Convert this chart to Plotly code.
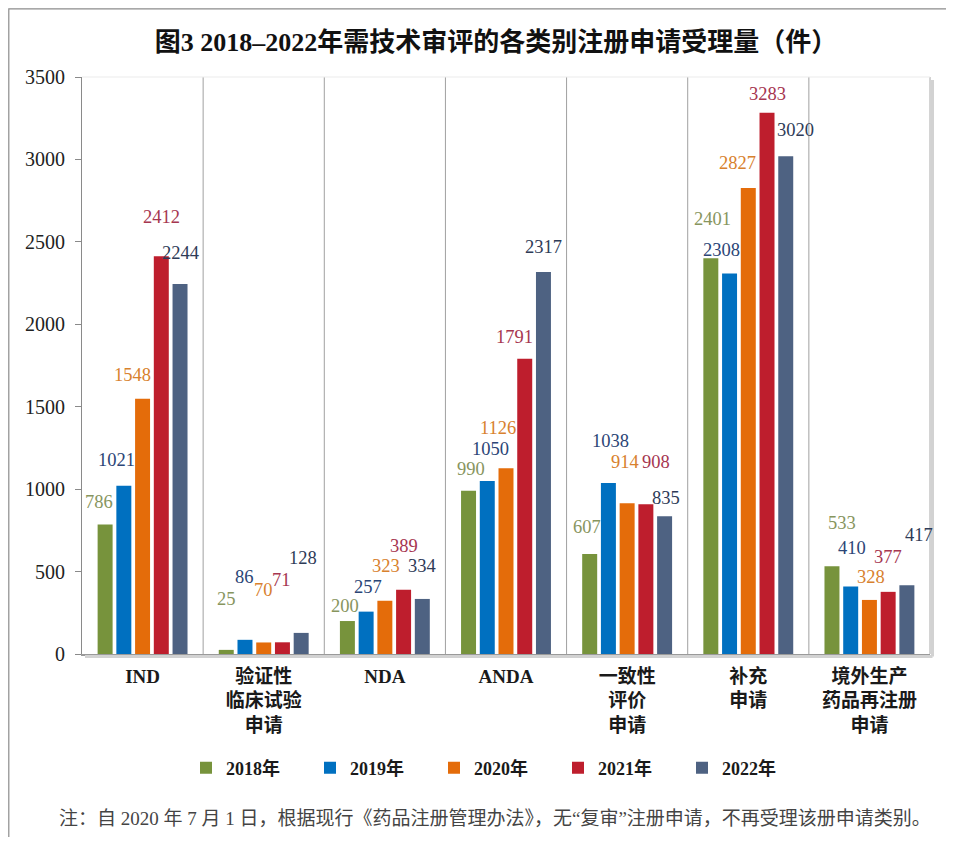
import plotly.graph_objects as go

# ---------------- data ----------------
categories = ["IND", "验证性<br>临床试验<br>申请", "NDA", "ANDA",
              "一致性<br>评价<br>申请", "补充<br>申请", "境外生产<br>药品再注册<br>申请"]
years = ["2018年", "2019年", "2020年", "2021年", "2022年"]
v2018 = [786, 25, 200, 990, 607, 2401, 533]
v2019 = [1021, 86, 257, 1050, 1038, 2308, 410]
v2020 = [1548, 70, 323, 1126, 914, 2827, 328]
v2021 = [2412, 71, 389, 1791, 908, 3283, 377]
v2022 = [2244, 128, 334, 2317, 835, 3020, 417]
series = [v2018, v2019, v2020, v2021, v2022]
y_ticks = [0, 500, 1000, 1500, 2000, 2500, 3000, 3500]

title_text = "图3 2018–2022年需技术审评的各类别注册申请受理量（件）"
note_text = "注：自 2020 年 7 月 1 日，根据现行《药品注册管理办法》，无“复审”注册申请，不再受理该册申请类别。"

# ---------------- styles ----------------
bar_colors = ["#77933C", "#0070C0", "#E46C0A", "#BE1E2D", "#4E6282"]
label_colors = ["#87955E", "#2B4576", "#D8812E", "#A63650", "#2E3B57"]
# label nudges (px) relative to the bar top: [category][series] = (dx, dy)
LABEL_NUDGE = [
    [(-6, 22), (-7, 26), (-10, 24), (0, 39), (0, 31)],
    [(0, 51), (0, 63), (0, 52), (-1, 62), (2, 75)],
    [(-2, 15), (2, 25), (1, 35), (0, 44), (0, 33)],
    [(2, 22), (3, 32), (-8, 40), (-10, 22), (0, 25)],
    [(-3, 27), (2, 42), (-2, 41), (10, 42), (1, 18)],
    [(2, 39), (-8, 24), (-11, 25), (0, 19), (10, 26)],
    [(10, 43), (1, 38), (2, 23), (0, 35), (12, 50)],
]

BARGAP = 0.227
BARGROUPGAP = 0.2
# the page body has an 8 px margin, so the figure is sized to fit the 954x845 window
OFF = 8
W, H = 954 - 2 * OFF, 845 - 2 * OFF
PL, PR, PT, PB = 82, 930, 77, 654          # plot area edges in window pixels
ML, MR, MT, MB = PL - OFF, W + OFF - PR, PT - OFF, H + OFF - PB
PW, PH = PR - PL, PB - PT


def px_x(x):
    return (x - PL) / PW


def px_y(y):
    return (PB - y) / PH


serif_cjk = "Liberation Serif, Noto Sans CJK SC, serif"

fig = go.Figure()
for i, (name, vals) in enumerate(zip(years, series)):
    fig.add_trace(go.Bar(
        x=categories, y=vals, name=name,
        marker=dict(color=bar_colors[i], line=dict(width=0)),
        hoverinfo="x+y+name",
    ))

# value labels
slot = (1 - BARGAP) / len(series)
annotations = []
for i, vals in enumerate(series):
    for j, v in enumerate(vals):
        dx, dy = LABEL_NUDGE[j][i]
        annotations.append(dict(
            x=j + (i - (len(series) - 1) / 2) * slot, y=v, xref="x", yref="y",
            text=str(v), showarrow=False, xanchor="center", yanchor="middle",
            xshift=dx, yshift=dy,
            font=dict(family="Liberation Serif, serif", size=18.5, color=label_colors[i]),
        ))

# footnote
annotations.append(dict(
    x=px_x(495), y=px_y(818), xref="paper", yref="paper",
    text=note_text, showarrow=False, xanchor="center", yanchor="middle",
    font=dict(family=serif_cjk, size=19, color="#444444"),
))

shapes = []
# category separators
for j in range(len(categories) - 1):
    shapes.append(dict(type="line", xref="x", yref="paper", x0=j + 0.5, x1=j + 0.5,
                       y0=0, y1=1, line=dict(color="#A0A0A0", width=1)))
# plot frame shadow (right & bottom)
sh = 2.5
shapes.append(dict(type="line", xref="paper", yref="paper",
                   x0=1 + sh / PW, x1=1 + sh / PW, y0=-sh / PH, y1=1 - 3 / PH,
                   line=dict(color="#D2D2D2", width=3)))
shapes.append(dict(type="line", xref="paper", yref="paper",
                   x0=3 / PW, x1=1 + sh / PW, y0=-sh / PH, y1=-sh / PH,
                   line=dict(color="#D2D2D2", width=3)))
# right border & faint top border
shapes.append(dict(type="line", xref="paper", yref="paper", x0=1, x1=1, y0=0, y1=1,
                   line=dict(color="#A8A8A8", width=1)))
shapes.append(dict(type="line", xref="paper", yref="paper", x0=0, x1=1, y0=1, y1=1,
                   line=dict(color="#EBEBEB", width=1)))
# outer frame (right and bottom sides fall outside the picture, as in the reference)
shapes.append(dict(type="rect", xref="paper", yref="paper",
                   x0=px_x(OFF + 0.8), x1=px_x(970),
                   y0=px_y(870), y1=px_y(OFF + 0.8),
                   line=dict(color="#8C8C8C", width=1.2), fillcolor="rgba(0,0,0,0)",
                   layer="below"))

fig.update_layout(
    width=W, height=H, autosize=False,
    margin=dict(l=ML, r=MR, t=MT, b=MB, pad=0, autoexpand=False),
    paper_bgcolor="white", plot_bgcolor="white",
    barmode="group", bargap=BARGAP, bargroupgap=BARGROUPGAP,
    title=dict(text=title_text, xref="paper", x=px_x(496), xanchor="center",
               yref="container", y=1 - (42 - OFF) / H, yanchor="middle", automargin=False,
               font=dict(family=serif_cjk, size=26, color="#111111", weight="bold")),
    xaxis=dict(
        type="category", range=[-0.5, len(categories) - 0.5], automargin=False,
        showline=True, linecolor="#9A9A9A", linewidth=1.5,
        ticks="", showgrid=False, zeroline=False,
        tickfont=dict(family=serif_cjk, size=19, color="#1A1A1A", weight="bold"),
        ticklabelstandoff=4,
    ),
    yaxis=dict(
        range=[0, 3500], tickvals=y_ticks, ticktext=[str(t) for t in y_ticks],
        automargin=False,
        showline=True, linecolor="#8A8A8A", linewidth=1.2,
        ticks="outside", ticklen=6, tickcolor="#8A8A8A", tickwidth=1.2,
        showgrid=False, zeroline=False,
        tickfont=dict(family="Liberation Serif, serif", size=20, color="#222222"),
        ticklabelstandoff=6,
    ),
    legend=dict(
        orientation="h", x=px_x(186), xanchor="left",
        y=px_y(768), yanchor="middle",
        entrywidth=79, entrywidthmode="pixels", traceorder="normal",
        font=dict(family=serif_cjk, size=18, color="#1A1A1A", weight="bold"),
        bgcolor="rgba(0,0,0,0)",
    ),
    annotations=annotations,
    shapes=shapes,
)

fig.write_html("out.html")
